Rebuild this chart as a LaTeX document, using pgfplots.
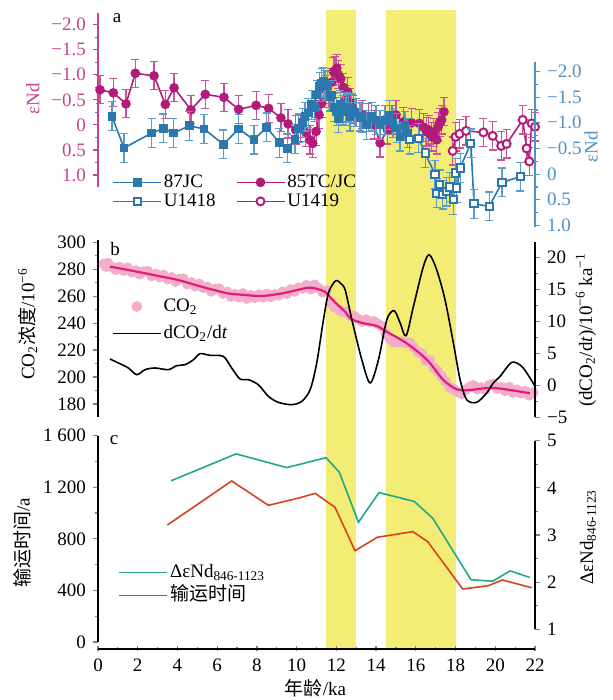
\documentclass[border=0pt]{standalone}
\usepackage{fontspec}
\setmainfont{Liberation Serif}
\newfontfamily\cjk{Noto Sans CJK SC}
\usepackage{pgfplots}
\pgfplotsset{compat=1.18}
\definecolor{mag}{HTML}{B31B7B}
\definecolor{magax}{HTML}{C5458F}
\definecolor{magerr}{HTML}{C9549B}
\definecolor{blu}{HTML}{2B78AE}
\definecolor{bluax}{HTML}{4F93C4}
\definecolor{bluerr}{HTML}{5C9CC9}
\definecolor{yel}{HTML}{F3EC75}
\definecolor{pinkdot}{HTML}{F3AECB}
\definecolor{pinkline}{HTML}{E01E78}
\definecolor{tealc}{HTML}{21A88A}
\definecolor{redc}{HTML}{D8431E}
\newcommand\fs{\fontsize{9.5}{11}\selectfont}
\pgfplotsset{
  base/.style={scale only axis, width=218.5pt, xmin=0, xmax=22,
    tick align=outside,
    major tick length=2.5pt, minor tick length=1.5pt,
    tick label style={font=\fs},
    /pgf/number format/assume math mode=true,
    axis line style={line width=0.7pt}, every tick/.append style={line width=0.6pt},
    anchor=south west, clip=false,
    legend image code/.code={\draw[mark repeat=2,mark phase=2,##1] plot coordinates {(0pt,0pt)(12pt,0pt)(24pt,0pt)};},
    legend cell align=left},
  yonly/.style={axis x line=none},
  leg/.style={legend style={draw=none, fill=none, inner sep=0pt, font=\fs,
    nodes={inner sep=1pt, text height=7pt, text depth=2pt}}},
  magbars/.style={error bars/.cd, y dir=both, y fixed=0.28,
    error bar style={magerr, line width=0.6pt},
    error mark options={rotate=90, magerr, mark size=2pt, line width=0.6pt}},
  blubars/.style={error bars/.cd, y dir=both, y fixed=0.28,
    error bar style={bluerr, line width=0.6pt},
    error mark options={rotate=90, bluerr, mark size=2pt, line width=0.6pt}},
}
\begin{document}
\begin{tikzpicture}
\useasboundingbox (0,0) rectangle (306.5pt,350pt);

% background: yellow bands and shared x axis
\begin{axis}[base, at={(49pt,25.5pt)}, height=319.5pt, ymin=0, ymax=1,
  axis x line=bottom, axis y line=none, axis on top,
  x axis line style={-}, xtick={0,2,...,22}, minor x tick num=1]
\addplot[fill=yel, draw=none] coordinates {(11.5,0) (13,0) (13,1) (11.5,1)} -- cycle;
\addplot[fill=yel, draw=none] coordinates {(14.5,0) (18,0) (18,1) (14.5,1)} -- cycle;
\end{axis}

% panel c, left: transport time
\begin{axis}[base, yonly, at={(49pt,29pt)}, height=103.15pt, ymin=0, ymax=1600,
  axis y line*=left, ytick={0,400,...,1600},
  yticklabels={0,400,800,1\ 200,1\ 600}, minor y tick num=1]
\addplot[redc, line width=0.8pt] coordinates {
(3.49,907) (6.73,1249) (8.58,1060) (10.17,1119) (10.93,1153) (11.93,1045)
(12.94,708) (14.06,812) (15.85,856) (16.6,778) (18.36,411) (19.65,437)
(20.36,481) (21.83,421)};
\end{axis}

% panel c, right: Delta eps Nd
\begin{axis}[base, yonly, leg, at={(49pt,35.35pt)}, height=94.3pt, ymin=1, ymax=5,
  axis y line*=right, ytick={1,...,5}, minor y tick num=1,
  legend style={at={(0.046,0.362)}, anchor=north west, row sep=0.5pt}]
\addplot[tealc, line width=0.8pt] coordinates {
(3.68,4.15) (6.95,4.72) (9.5,4.43) (10.17,4.5) (11.48,4.64) (12.15,4.33)
(13.11,3.27) (14.15,3.9) (15.93,3.71) (16.86,3.35) (18.78,2.05) (19.87,2.02)
(20.75,2.24) (21.73,2.1)};
\addlegendentry{ΔεNd\textsubscript{846-1123}}
\addlegendimage{redc, line width=0.8pt}
\addlegendentry{{\cjk 输运时间}}
\end{axis}

% panel b, left: CO2
\begin{axis}[base, yonly, at={(49pt,141.5pt)}, height=88.5pt, ymin=170.35, ymax=301.7,
  axis y line*=left, ytick={180,200,...,300}, minor y tick num=1,
  clip marker paths=true]
\addplot[only marks, mark=*, mark size=2.5pt, color=pinkdot] coordinates {
(0.3,284) (0.4,282) (0.5,284.5) (0.7,281.6) (0.9,279.6) (1.1,281.6) (1.3,279)
(1.5,281) (1.7,277.9) (1.9,278.9) (2.1,276.3) (2.3,278.2) (2.5,278.6) (2.7,275)
(2.9,276.4) (3.1,274.3) (3.3,275.7) (3.5,272.6) (3.7,274) (3.9,270.9) (4.1,272.7)
(4.3,272.9) (4.5,269) (4.7,270.2) (4.9,267.4) (5.1,269) (5.3,266.2) (5.5,266.9)
(5.7,263.6) (5.9,265.4) (6.1,265.6) (6.3,261.9) (6.5,263.2) (6.7,259.8) (6.9,261.5)
(7.1,259.3) (7.3,262) (7.5,258.3) (7.7,260.6) (7.9,258.9) (8.1,261.2) (8.3,259.2)
(8.5,261.6) (8.7,259.5) (8.9,261.3) (9.1,260.7) (9.3,263.2) (9.5,261.8) (9.7,264.9)
(9.9,263.6) (10.1,266.3) (10.3,265.9) (10.5,268.1) (10.7,265.2) (10.9,268.4)
(11.1,266) (11.3,263) (11.5,264) (11.7,255.2) (11.9,252) (12.1,250) (12.3,248.4)
(12.5,248.3) (12.7,245.5) (12.9,245.2) (13.1,243) (13.3,241.2) (13.5,242.5)
(13.7,240.9) (13.9,241.3) (14.1,239.3) (14.3,237.6) (14.5,231.8) (14.7,228.2)
(14.9,225.7) (15.1,226) (15.3,226.2) (15.5,225.4) (15.7,225.4) (15.9,222)
(16.1,218.7) (16.3,217.2) (16.5,212.3) (16.7,212.5) (16.9,207) (17.1,204.2)
(17.3,200.5) (17.5,196.7) (17.7,192.4) (17.9,191) (18.1,188.9) (18.3,187.7)
(18.5,190.6) (18.7,192.4) (18.9,193.7) (19.1,191) (19.3,192.3) (19.5,190.6)
(19.7,194) (19.9,194.8) (20.1,191.4) (20.3,192.6) (20.5,189.8) (20.7,192.5)
(20.9,188.5) (21.1,190.5) (21.3,188) (21.5,189.5) (21.7,186.5) (21.9,188.6)};
\addplot[pinkline, line width=1.1pt, smooth] coordinates {
(0.6,281.9) (1.5,279.5) (2.37,277) (3.2,274.5) (4.04,272) (5.22,267) (6.0,264)
(6.56,262) (7.4,260.9) (8.24,260.1) (9.25,262) (10.0,264.5) (10.59,266.3)
(10.93,265.8) (11.43,263.3) (11.68,259.4) (12.0,254.5) (12.44,248.5) (12.69,243.6)
(13.0,241.5) (13.36,239.9) (14.03,237.9) (14.53,233.6) (15.04,229.5) (15.54,225)
(16.2,217.6) (16.72,210.2) (17.39,197.8) (18.06,190.9) (18.73,190.4) (19.74,192)
(20.74,190.4) (21.75,187.9)};
\end{axis}

% panel b, right: dCO2/dt
\begin{axis}[base, yonly, leg, at={(49pt,141.35pt)}, height=87.8pt, ymin=-5, ymax=22.5,
  axis y line*=right, ytick={-5,0,...,20}, yticklabels={−5,0,5,10,15,20},
  minor y tick num=1,
  legend style={at={(0.031,0.696)}, anchor=north west, row sep=2.5pt}]
\addlegendimage{legend image code/.code={\path[draw=none] (0pt,0pt) -- (24pt,0pt); \fill[pinkdot] (12pt,0pt) circle (2.5pt);}}
\addlegendentry{CO\textsubscript{2}}
\addplot[black, line width=0.8pt, smooth, tension=0.5] coordinates {
(0.6,4.13) (1.1,3.4) (1.53,2.72) (1.95,1.67) (2.37,2.46) (2.87,2.72) (3.54,2.46)
(3.96,3.08) (4.38,3.24) (4.8,4.0) (5.14,4.96) (5.64,4.7) (6.31,4.54) (6.73,2.72)
(7.15,1.0) (7.57,0.89) (8.07,0.11) (8.58,-1.72) (9.08,-2.66) (9.75,-3.02)
(10.26,-2.5) (10.68,-0.67) (11.01,3.5) (11.35,10.28) (11.6,14.46) (11.9,16.2)
(12.05,16.4) (12.2,16.0) (12.44,14.98) (12.78,10.28) (13.28,4.02) (13.7,0.38)
(14.12,4.02) (14.54,10.28) (14.91,11.69) (15.21,9.77) (15.51,7.78) (15.88,12.36)
(16.38,18.62) (16.68,20.45) (17.05,18.1) (17.47,13.41) (17.89,6.64) (18.23,0.89)
(18.56,-2.24) (19.06,-2.66) (19.57,-1.19) (19.9,0.38) (20.24,1.41) (20.83,3.6)
(21.33,2.97) (21.75,1.16) (22,-0.16)};
\addlegendentry{dCO\textsubscript{2}/d\textit{t}}
\end{axis}

% panel a, left: 85TC/JC and U1419
\begin{axis}[base, yonly, at={(49pt,256.5pt)}, height=87.15pt, y dir=reverse,
  ymin=-2.24, ymax=1.24, axis y line*=left,
  y axis line style={magax}, ytick style={magax}, yticklabel style={magax},
  ytick={-2,-1.5,...,1}, yticklabels={−2.0,−1.5,−1.0,−0.5,0,0.5,1.0},
  minor y tick num=1]
\addplot[mag, line width=0.8pt, mark=*, mark size=2pt, magbars] coordinates {
(0.1,-0.70) (0.77,-0.64) (1.41,-0.42) (1.88,-1.03) (2.82,-0.98) (3.39,-0.41)
(3.83,-0.74) (4.68,-0.30) (5.40,-0.61) (6.34,-0.55) (7.08,-0.31) (7.96,-0.39)
(8.59,-0.33) (9.21,-0.14) (9.57,-0.02) (9.95,0.10) (10.2,0.05) (10.45,0.15)
(10.67,0.30) (10.81,0.37) (10.98,0.13) (11.13,-0.20) (11.26,-0.43) (11.45,-0.70)
(11.6,-0.62) (11.75,-0.85) (11.85,-1.06) (11.93,-1.08) (12.02,-1.13) (12.1,-1.0)
(12.22,-0.92) (12.35,-0.75) (12.47,-0.50) (12.57,-0.66) (12.7,-0.45) (12.85,-0.30)
(13.0,-0.25) (13.3,-0.20) (13.6,-0.15) (13.9,0.0) (14.2,0.36) (14.57,0.10)
(14.8,-0.10) (15.0,-0.20) (15.37,-0.06) (15.79,-0.04) (16.18,-0.03) (16.4,0.05)
(16.55,0.14) (16.65,0.10) (16.8,0.24) (16.9,0.15) (17.05,0.30) (17.13,0.04)
(17.2,-0.05) (17.3,-0.10) (17.42,-0.26)};
\addplot[mag, line width=0.8pt, mark=*, mark size=2pt,
  mark options={fill=white, line width=1pt}, magbars] coordinates {
(17.86,0.52) (18.0,0.24) (18.2,0.18) (18.53,0.12) (19.4,0.15) (19.87,0.22)
(20.3,0.42) (20.57,0.38) (21.38,-0.10) (21.58,0.47) (21.71,0.73) (21.83,-0.03)
(22.0,0.04)};
\end{axis}

% panel a, right: 87JC and U1418
\begin{axis}[base, yonly, leg, at={(49pt,236.25pt)}, height=82.9pt, y dir=reverse,
  ymin=-2.19, ymax=1.04, axis y line*=right,
  y axis line style={bluax}, ytick style={bluax}, yticklabel style={bluax},
  ytick={-2,-1.5,...,1}, yticklabels={−2.0,−1.5,−1.0,−0.5,0,0.5,1.0},
  minor y tick num=1,
  legend columns=2,
  legend style={at={(0.032,0.341)}, anchor=north west, row sep=-1.5pt,
    /tikz/every even column/.append style={column sep=9pt}}]
\addplot[blu, line width=0.8pt, mark=square*, mark size=1.8pt, blubars] coordinates {
(0.70,-1.13) (1.31,-0.51) (2.70,-0.80) (3.29,-0.89) (3.79,-0.80) (4.60,-0.94)
(5.34,-0.88) (6.31,-0.58) (7.08,-0.88) (7.85,-0.67) (8.49,-0.91) (9.13,-0.61)
(9.53,-0.50) (9.92,-0.68) (10.10,-0.89) (10.30,-1.0) (10.42,-1.12) (10.59,-1.19)
(10.76,-1.35) (10.90,-1.30) (11.01,-1.54) (11.17,-1.70) (11.26,-1.77) (11.34,-1.80)
(11.43,-1.74) (11.55,-1.72) (11.68,-1.51) (11.76,-1.54) (11.90,-1.30) (12.02,-1.22)
(12.10,-1.09) (12.20,-1.35) (12.35,-1.25) (12.44,-1.22) (12.52,-1.30) (12.60,-1.28)
(12.69,-1.12) (12.77,-1.28) (12.94,-1.20) (13.19,-1.12) (13.28,-1.10) (13.53,-0.96)
(13.78,-1.12) (14.00,-1.05) (14.20,-0.96) (14.45,-1.05) (14.67,-1.15) (14.85,-1.0)
(15.03,-0.90) (15.20,-0.73) (15.45,-0.94) (15.60,-0.80)};
\addlegendentry{87JC}
\addlegendimage{mag, line width=0.8pt, mark=*, mark size=2pt}
\addlegendentry{85TC/JC}
\addplot[blu, line width=0.8pt, mark=square*, mark size=1.8pt,
  mark options={fill=white, line width=1pt}, blubars] coordinates {
(15.70,-0.67) (16.13,-0.70) (16.47,-0.41) (16.97,0.01) (17.05,0.37) (17.20,0.20)
(17.35,0.40) (17.56,0.34) (17.70,0.25) (17.89,0.50) (18.00,-0.02) (18.06,0.27)
(18.23,-0.12) (18.77,-0.60) (18.93,0.58) (19.70,0.63) (20.34,0.16) (21.25,0.05)};
\addlegendentry{U1418}
\addlegendimage{mag, line width=0.8pt, mark=*, mark size=2pt, mark options={fill=white, line width=1pt}}
\addlegendentry{U1419}
\end{axis}

% panel letters and axis titles
\node[font=\fs] at (58.5pt,341pt) {a};
\node[font=\fs] at (57.5pt,225.5pt) {b};
\node[font=\fs] at (57pt,129.7pt) {c};
\node[font=\fs, rotate=90, magax] at (16.5pt,300.5pt) {εNd};
\node[font=\fs, rotate=90, bluax] at (295.5pt,276.5pt) {εNd};
\node[font=\fs, rotate=90] at (13.75pt,188pt) {CO\textsubscript{2}{\cjk 浓度}/10\textsuperscript{−6}};
\node[font=\fs, rotate=90] at (293pt,185pt) {(dCO\textsubscript{2}/d\textit{t})/10\textsuperscript{−6} ka\textsuperscript{−1}};
\node[font=\fs, rotate=90] at (11.25pt,78.5pt) {{\cjk 输运时间}/a};
\node[font=\fs, rotate=90] at (294pt,81.5pt) {ΔεNd\textsubscript{846-1123}};
\node[font=\fs] at (157.75pt,6pt) {{\cjk 年龄}/ka};
\end{tikzpicture}
\end{document}
